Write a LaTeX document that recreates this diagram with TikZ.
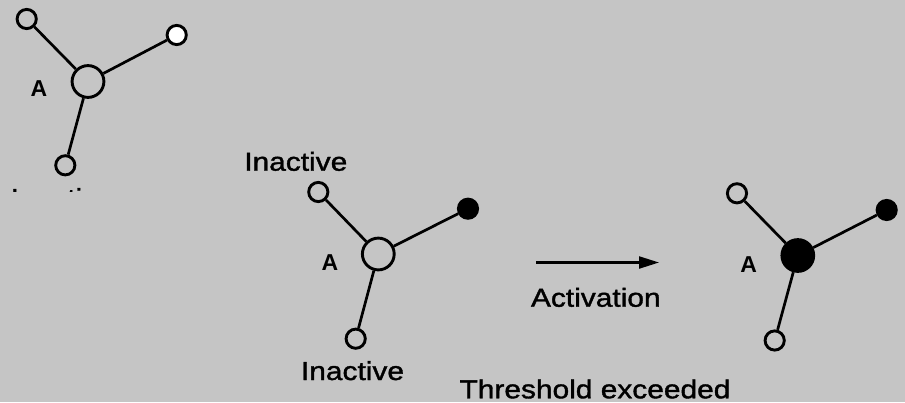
\documentclass[tikz,border=0pt]{standalone}
\usepackage{fontspec}
\setmainfont{Liberation Sans}[FakeStretch=1.15,FakeBold=1.4]
\newfontfamily\letterfont{Liberation Sans}
\usetikzlibrary{arrows.meta}
\definecolor{paper}{RGB}{197,197,197}
\tikzset{
  unit/.style={circle, draw=black, line width=2.9pt, inner sep=0pt, minimum size=19.2pt},
  hub/.style={circle, draw=black, line width=2.9pt, inner sep=0pt, minimum size=31.8pt},
  firing/.style={fill=black},
  blank/.style={fill=white},
  link/.style={line width=2.7pt, black},
  caption/.style={inner sep=0pt, anchor=base, font=\fontsize{26}{30}\selectfont},
  unitname/.style={inner sep=0pt, font=\letterfont\bfseries\fontsize{23}{26}\selectfont},
  flow/.style={line width=2.2pt, -{Triangle[length=20pt,width=12pt]}}
}
\begin{document}
\begin{tikzpicture}[x=1pt,y=-1pt]
\fill[paper] (0,0) rectangle (905,402);
\useasboundingbox (0,0) rectangle (905,402);

% first network: all units quiet
\node[hub]  (a1)  at (88,81.5) {};
\node[unit] (a1l) at (26.7,19) {};
\node[unit,blank] (a1r) at (176.7,35) {};
\node[unit] (a1b) at (65.3,165.3) {};
\draw[link] (a1) -- (a1l);
\draw[link] (a1) -- (a1r);
\draw[link] (a1) -- (a1b);
\node[unitname] (a1n) at (39,89) {A};
\begin{scope}
  \clip (0,186.5) rectangle (200,191.8);
  \node[caption, anchor=base west] (a1cap) at (10.5,207) {Inactive};
\end{scope}

% second network: one input fires, A still below threshold
\node[hub]  (a2)  at (378.3,254) {};
\node[unit] (a2l) at (318.3,192) {};
\node[unit,firing] (a2r) at (468,208.7) {};
\node[unit] (a2b) at (355.7,338.7) {};
\draw[link] (a2) -- (a2l);
\draw[link] (a2) -- (a2r);
\draw[link] (a2) -- (a2b);
\node[unitname] (a2n) at (330,262.7) {A};
\node[caption] (in1) at (295.8,170.7) {Inactive};
\node[caption] (in2) at (352.5,380) {Inactive};

% transition
\coordinate (go1) at (536,262.5);
\coordinate (go2) at (659,262.5);
\draw[flow] (go1) -- (go2);
\node[caption] (act) at (595.8,306.7) {Activation};
\node[caption] (thr) at (595,398.3) {Threshold exceeded};

% third network: A has fired
\node[hub,firing] (a3)  at (797.8,255.5) {};
\node[unit] (a3l) at (737,193.3) {};
\node[unit,firing] (a3r) at (886.7,210) {};
\node[unit] (a3b) at (774.7,340.5) {};
\draw[link] (a3) -- (a3l);
\draw[link] (a3) -- (a3r);
\draw[link] (a3) -- (a3b);
\node[unitname] (a3n) at (748.7,264.3) {A};
\end{tikzpicture}
\end{document}
